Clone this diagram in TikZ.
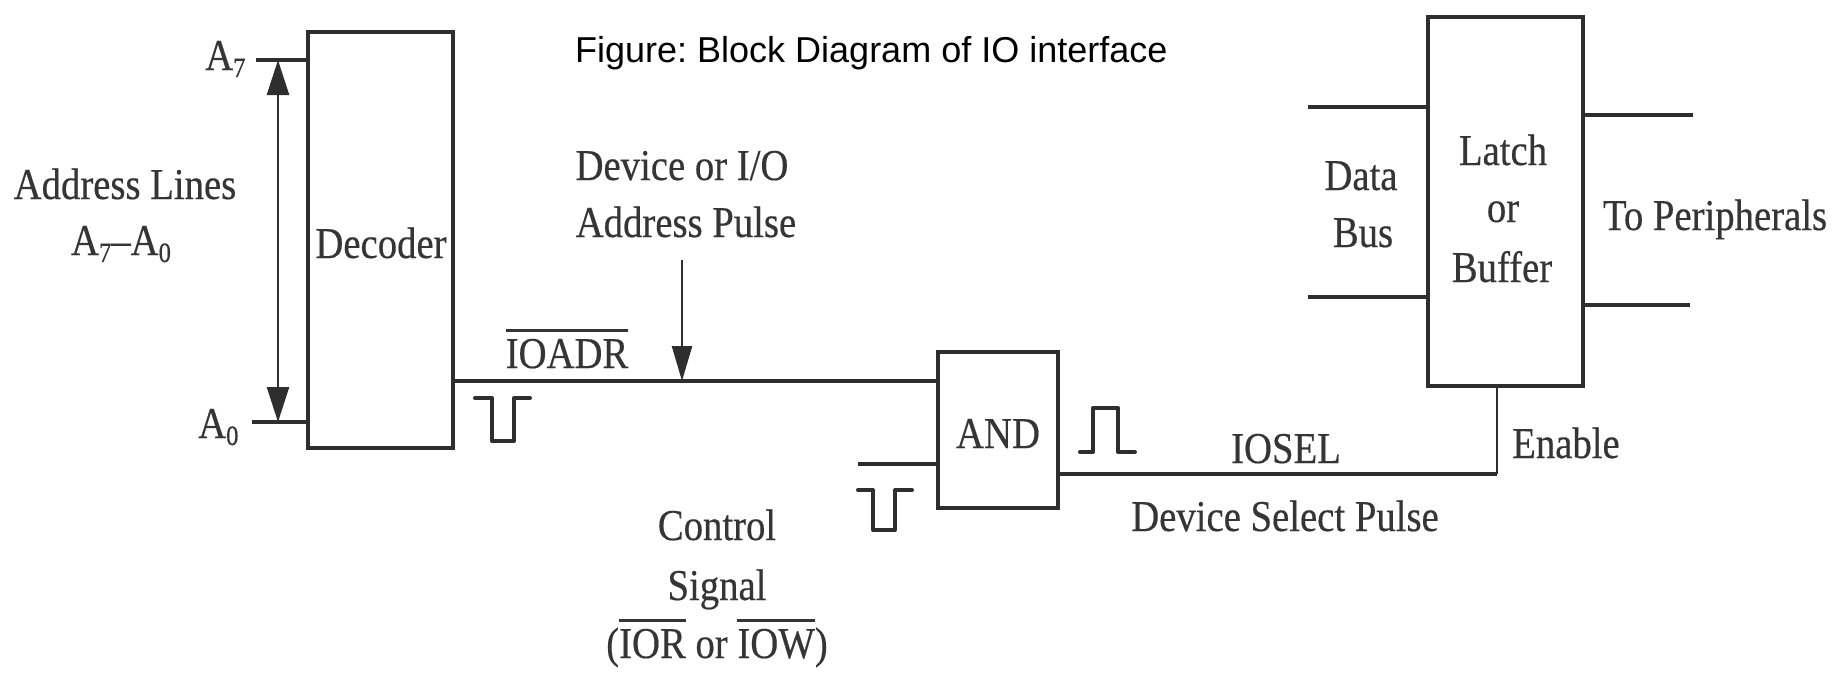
\documentclass[tikz,border=0pt]{standalone}
\usepackage{fontspec}
\setmainfont{Liberation Serif}[FakeStretch=0.88,FakeBold=0.4]
\newfontfamily\titlefont{Liberation Sans}
\usetikzlibrary{arrows.meta}
\definecolor{ink}{HTML}{2E2E2E}
\definecolor{txt}{HTML}{353535}
\newcommand{\ovl}[1]{\leavevmode\vbox{\hrule height 2.5pt\kern 7pt\hbox{#1}}}
\newcommand{\subidx}[1]{\raisebox{-7pt}{\fontsize{28}{28}\selectfont #1}}
\frenchspacing
\begin{document}
\begin{tikzpicture}[x=1pt,y=-1pt,
  lbl/.style={font=\fontsize{44}{52}\selectfont, text=txt, inner sep=0pt, anchor=base},
  blk/.style={draw=ink, line width=4.5pt, inner sep=0pt},
  wire/.style={draw=ink, line width=3.4pt},
  thinwire/.style={draw=ink, line width=2.4pt},
  pulse/.style={draw=ink, line width=4pt, line join=round, line cap=round},
  ptr/.style={draw=ink, line width=2.4pt, -{Triangle[length=35pt,width=20pt]}},
  dptr/.style={draw=ink, line width=2.4pt, {Triangle[length=35pt,width=22pt]}-{Triangle[length=35pt,width=22pt]}}
]
\useasboundingbox[fill=white] (0,0) rectangle (1835,672);

% blocks
\node[blk, minimum width=145pt, minimum height=416pt] (dec) at (380.5,240) {};
\node[blk, minimum width=120pt, minimum height=156pt] (and) at (998,430) {};
\node[blk, minimum width=155pt, minimum height=369pt] (latch) at (1505.5,201.5) {};

% title
\node[font=\titlefont\fontsize{36}{40}\selectfont, anchor=base west, inner sep=0pt] (title) at (575,62) {Figure: Block Diagram of IO interface};

% labels
\node[lbl] (adl) at (125,199) {Address Lines};
\node[lbl] (ada) at (121,255) {A\subidx{7}–A\subidx{0}};
\node[lbl, anchor=base west] (la7) at (205,70) {A\subidx{7}};
\node[lbl, anchor=base west] (la0) at (198,438) {A\subidx{0}};
\node[lbl] (dect) at (381,258) {Decoder};
\node[lbl] (dev1) at (682,180) {Device or I/O};
\node[lbl] (dev2) at (686,237) {Address Pulse};
\node[lbl] (ioadr) at (567,368) {\ovl{IOADR}};
\node[lbl] (andt) at (998,448) {AND};
\node[lbl] (cs1) at (717,540) {Control};
\node[lbl] (cs2) at (717,600) {Signal};
\node[lbl] (cs3) at (717,658) {(\ovl{IOR} or \ovl{IOW})};
\node[lbl] (iosel) at (1286,463) {IOSEL};
\node[lbl, anchor=base west] (ena) at (1512,458) {Enable};
\node[lbl] (dsp) at (1285,531) {Device Select Pulse};
\node[lbl] (d1) at (1361,190) {Data};
\node[lbl] (d2) at (1363,247) {Bus};
\node[lbl] (l1) at (1503,165) {Latch};
\node[lbl] (l2) at (1503,222) {or};
\node[lbl] (l3) at (1502,282) {Buffer};
\node[lbl] (tp) at (1715,230) {To Peripherals};

% coordinates
\coordinate (a7) at (256,60);
\coordinate (a0) at (252,422);
\coordinate (ar7) at (278,60);
\coordinate (ar0) at (278,422);
\coordinate (ioy) at (700,381);
\coordinate (pt) at (682,260);
\coordinate (ctl) at (858,464);
\coordinate (en) at (1497,474);
\coordinate (db1) at (1308,107);
\coordinate (db2) at (1308,297);
\coordinate (tp1) at (1693,115);
\coordinate (tp2) at (1690,305);

% address lines
\draw[wire] (a7) -- (a7 -| dec.west);
\draw[wire] (a0) -- (a0 -| dec.west);
\draw[dptr] (ar7) -- (ar0);

% IOADR
\draw[wire] (dec.east |- ioy) -- (and.west |- ioy);
\draw[ptr] (pt) -- (pt |- ioy);
\draw[wire] (ctl) -- (ctl -| and.west);

% IOSEL
\draw[wire] (and.east |- en) -- (en);
\draw[thinwire] (en) -- (en |- latch.south);

% data bus and peripherals
\draw[wire] (db1) -- (db1 -| latch.west);
\draw[wire] (db2) -- (db2 -| latch.west);
\draw[wire] (tp1 -| latch.east) -- (tp1);
\draw[wire] (tp2 -| latch.east) -- (tp2);

% pulses
\draw[pulse] (475,398) -- (492,398) -- (492,441) -- (514,441) -- (514,398) -- (530,398);
\draw[pulse] (858,490) -- (873,490) -- (873,530) -- (895,530) -- (895,490) -- (912,490);
\draw[pulse] (1080,452) -- (1093,452) -- (1093,408) -- (1118,408) -- (1118,452) -- (1135,452);
\end{tikzpicture}
\end{document}
